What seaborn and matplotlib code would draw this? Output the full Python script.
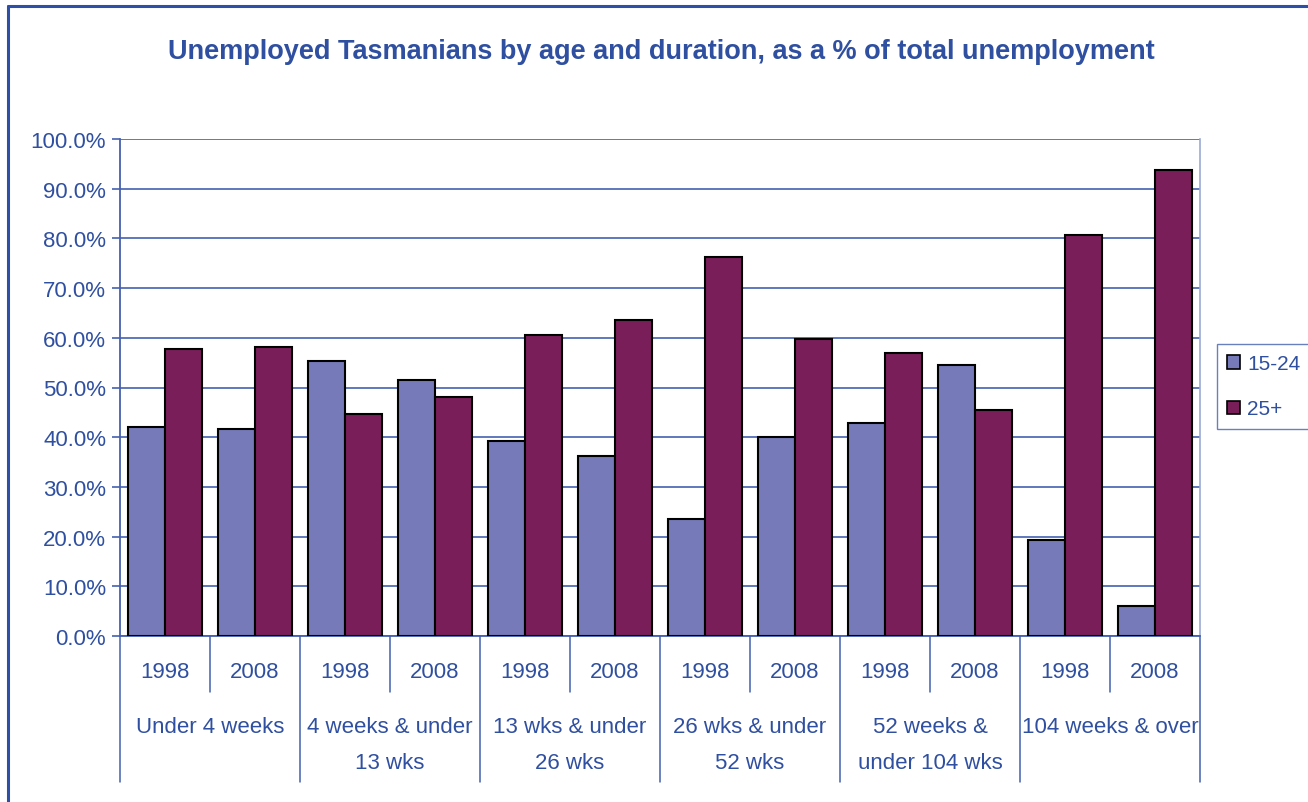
import matplotlib
matplotlib.use("Agg")
import matplotlib.pyplot as plt
import seaborn as sns
import pandas as pd
from matplotlib.lines import Line2D
import matplotlib.transforms as mtransforms

durations = ["Under 4 weeks", "4 weeks & under\n13 wks", "13 wks & under\n26 wks",
             "26 wks & under\n52 wks", "52 weeks &\nunder 104 wks", "104 weeks & over"]
years = ["1998", "2008"]
age_15_24 = [42.0, 41.6, 55.4, 51.6, 39.2, 36.3, 23.5, 40.0, 42.8, 54.6, 19.3, 6.0]
age_25_plus = [57.8, 58.2, 44.6, 48.0, 60.6, 63.5, 76.3, 59.8, 57.0, 45.4, 80.7, 93.8]
series = ["15-24", "25+"]
yticks = [0, 10, 20, 30, 40, 50, 60, 70, 80, 90, 100]

TXT = "#2F4FA0"
GRID = "#4460B0"
colors = ["#767AB8", "#7A1E5A"]
FS = 16

clusters = [f"{d}|{y}" for d in durations for y in years]
rows = []
for i, c in enumerate(clusters):
    rows.append({"cluster": c, "series": series[0], "value": age_15_24[i]})
    rows.append({"cluster": c, "series": series[1], "value": age_25_plus[i]})
df = pd.DataFrame(rows)

sns.set_theme(style="white")
plt.rcParams["font.family"] = ["Liberation Sans", "DejaVu Sans"]

fig = plt.figure(figsize=(13.08, 8.03), dpi=100)
ax = fig.add_axes([120/1308, 1-637/803, 1080/1308, 497/803])

sns.barplot(data=df, x="cluster", y="value", hue="series", order=clusters,
            hue_order=series, palette=colors, width=0.83, edgecolor="black",
            linewidth=1.5, saturation=1, ax=ax, legend=False, zorder=3)

ax.set_ylim(0, 100)
ax.set_xlim(-0.5, len(clusters) - 0.5)
ax.set_yticks(yticks)
ax.set_yticklabels([f"{v:.1f}%" for v in yticks], color=TXT, fontsize=FS)
ax.yaxis.grid(True, color=GRID, linewidth=1.2, zorder=0)
ax.set_axisbelow(True)
ax.tick_params(axis="y", direction="out", length=6, color=GRID, width=1.2, pad=4, left=True)
ax.set_xticks([])
ax.set_xlabel("")
ax.set_ylabel("")
for s in ["left", "bottom"]:
    ax.spines[s].set_color(GRID)
    ax.spines[s].set_linewidth(1.3)
ax.spines["right"].set_color("#9BAAD6")
ax.spines["right"].set_linewidth(1.2)
ax.spines["top"].set_visible(False)

trans = mtransforms.blended_transform_factory(ax.transData, ax.transAxes)
n = len(clusters)
for k in range(n + 1):
    xb = k - 0.5
    bottom = -0.2938 if k % 2 == 0 else -0.1127
    ax.plot([xb, xb], [0, bottom], transform=trans, color=GRID, lw=1.1, clip_on=False)

for i, c in enumerate(clusters):
    ax.text(i, -0.0724, years[i % 2], transform=trans, ha="center", va="center",
            color=TXT, fontsize=FS)
for j, d in enumerate(durations):
    ax.text(2*j + 0.5, -0.160, d, transform=trans, ha="center", va="top",
            color=TXT, fontsize=FS, linespacing=1.95)

fig.text(661/1308, 1-52/803, "Unemployed Tasmanians by age and duration, as a % of total unemployment",
         ha="center", va="center", color=TXT, fontsize=19.5, fontweight="bold")

handles = [plt.Rectangle((0, 0), 1, 1, facecolor=colors[i], edgecolor="black", linewidth=1.2)
           for i in range(2)]
leg = fig.legend(handles, series, loc="upper left", bbox_to_anchor=(1217/1308, 1-345/803),
                 frameon=True, fontsize=15, handlelength=0.6, handleheight=0.6,
                 handletextpad=0.35, borderpad=0.5, labelspacing=1.25, fancybox=False,
                 borderaxespad=0)
leg.get_frame().set_edgecolor(GRID)
leg.get_frame().set_linewidth(1.0)
for t in leg.get_texts():
    t.set_color(TXT)

fig.add_artist(Line2D([8/1308, 8/1308], [0, 1-7/803], color="#2E4FA8", lw=2.2))
fig.add_artist(Line2D([8/1308, 1], [1-7/803, 1-7/803], color="#2E4FA8", lw=2.2))

fig.savefig("out.png", dpi=100)
